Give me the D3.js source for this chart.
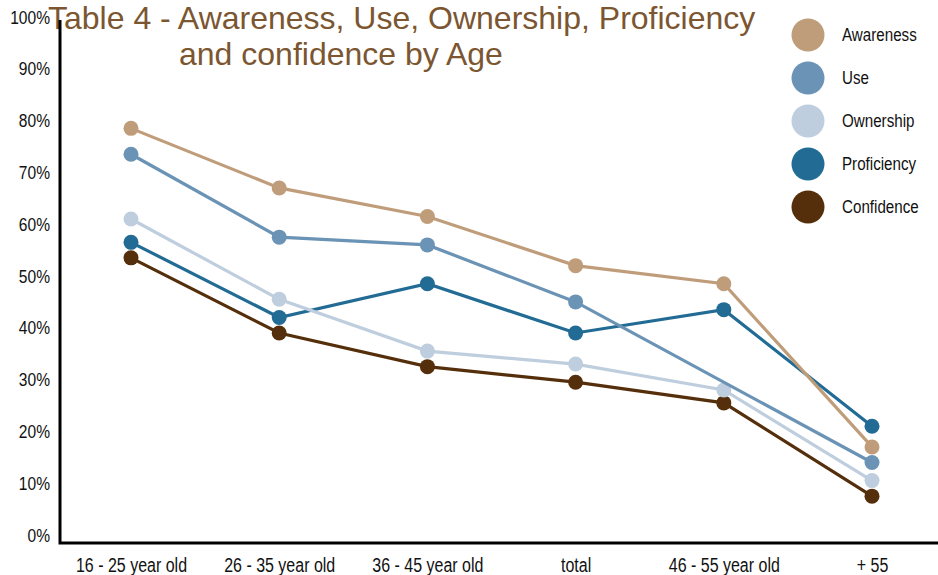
<!DOCTYPE html>
<html>
<head>
<meta charset="utf-8">
<script src="https://cdn.jsdelivr.net/npm/d3@7"></script>
<style>
  html, body { margin: 0; padding: 0; background: #fff; }
  svg { display: block; }
  .narrow { font-family: "Liberation Sans", Arial, sans-serif; }
</style>
</head>
<body>
<svg id="chart" width="938" height="575"></svg>
<script>
// Age groups along the x axis
const categories = ["16 - 25 year old", "26 - 35 year old", "36 - 45 year old", "total", "46 - 55 year old", "+ 55"];

// Percentages per age group (null = no value reported)
const awareness   = [78.5, 67, 61.5, 52, 48.5, 17];
const use         = [73.5, 57.5, 56, 45, null, 14];
const ownership   = [61, 45.5, 35.5, 33, 28, 10.5];
const proficiency = [56.5, 42, 48.5, 39, 43.5, 21];
const confidence  = [53.5, 39, 32.5, 29.5, 25.5, 7.5];

const seriesNames  = ["Awareness", "Use", "Ownership", "Proficiency", "Confidence"];
const seriesValues = [awareness, use, ownership, proficiency, confidence];
const seriesColors = ["#c09d7a", "#6a93b5", "#bfcede", "#216b94", "#552f0b"];

const yTicks = [0, 10, 20, 30, 40, 50, 60, 70, 80, 90, 100];
const titleLines = ["Table 4 - Awareness, Use, Ownership, Proficiency", "and confidence by Age"];

// Horizontal squeeze that gives the condensed label lettering
const CONDENSE = 0.82;

const svg = d3.select("#chart");

const x = d3.scalePoint().domain(categories).range([131, 872]);
const y = d3.scaleLinear().domain([0, 100]).range([535, 17]);

// Title
const title = svg.append("g")
  .attr("font-family", "'Liberation Sans', Arial, sans-serif")
  .attr("font-size", 32)
  .attr("fill", "#7b5630");
title.append("text").attr("x", 48).attr("y", 29).text(titleLines[0]);
title.append("text").attr("x", 179).attr("y", 65).text(titleLines[1]);

// Y axis labels
const yAxis = svg.append("g")
  .attr("class", "narrow")
  .attr("transform", "translate(50,0)")
  .call(d3.axisLeft(y).tickValues(yTicks).tickFormat(d => d + "%").tickSize(0).tickPadding(0));
yAxis.select(".domain").remove();
yAxis.selectAll("text")
  .attr("font-size", 19).attr("fill", "#111").attr("font-family", null)
  .attr("transform", `scale(${CONDENSE},1)`);

// X axis labels
const xAxis = svg.append("g")
  .attr("class", "narrow")
  .attr("transform", "translate(0,558)")
  .call(d3.axisBottom(x).tickSize(0).tickPadding(0));
xAxis.select(".domain").remove();
xAxis.selectAll("text")
  .attr("font-size", 19.5).attr("fill", "#111").attr("font-family", null)
  .attr("transform", `scale(${CONDENSE},1)`);

// Chart frame (left and bottom rules)
svg.append("path")
  .attr("d", "M60,20 V543 H938")
  .attr("fill", "none")
  .attr("stroke", "#000")
  .attr("stroke-width", 3);

// Series lines and markers, drawn from last to first
const line = d3.line().x(d => x(d.cat)).y(d => y(d.v));
const plot = svg.append("g");
for (let i = seriesNames.length - 1; i >= 0; i--) {
  const pts = categories.map((c, j) => ({ cat: c, v: seriesValues[i][j] })).filter(d => d.v != null);
  const g = plot.append("g");
  g.append("path")
    .datum(pts)
    .attr("d", line)
    .attr("fill", "none")
    .attr("stroke", seriesColors[i])
    .attr("stroke-width", 3.2);
  g.selectAll("circle")
    .data(pts)
    .join("circle")
    .attr("cx", d => x(d.cat))
    .attr("cy", d => y(d.v))
    .attr("r", 7.5)
    .attr("fill", seriesColors[i]);
}

// Legend
const legend = svg.append("g").attr("class", "narrow");
const ly = d3.scalePoint().domain(seriesNames).range([35, 207]);
seriesNames.forEach((name, i) => {
  legend.append("circle")
    .attr("cx", 808).attr("cy", ly(name)).attr("r", 16.5)
    .attr("fill", seriesColors[i]);
  legend.append("text")
    .attr("transform", `translate(842,${ly(name)}) scale(${CONDENSE},1)`)
    .attr("dy", "0.35em")
    .attr("font-size", 18.5)
    .attr("fill", "#111")
    .text(name);
});
</script>
</body>
</html>
